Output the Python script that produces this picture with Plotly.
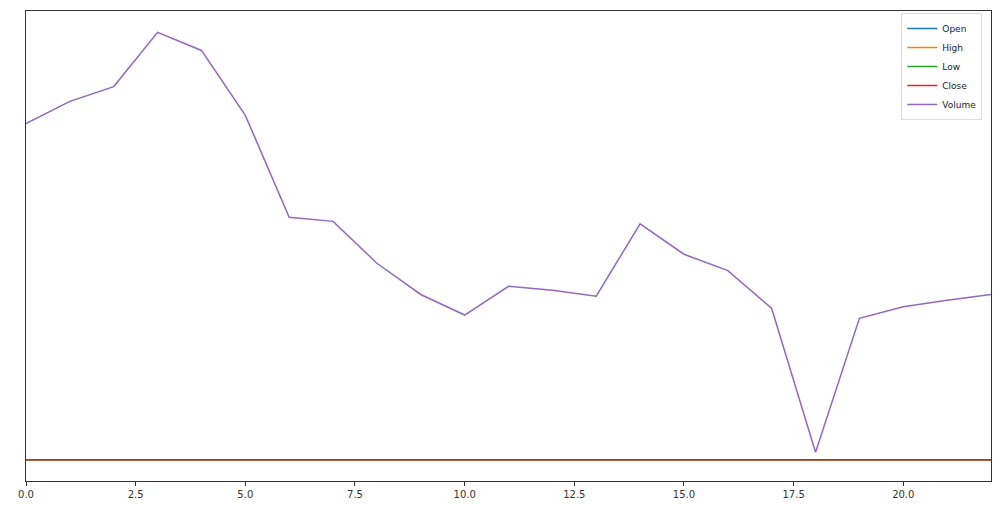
"""
Stock price columns and volume plotted on one shared axis.
"""

import plotly.graph_objects as go

# day index
days = list(range(23))

# prices are tiny next to volume, so they sit on the baseline
open_ = [171.2, 172.0, 170.8, 169.5, 170.3, 168.9, 169.7, 170.5, 171.1, 170.2, 169.8, 170.9,
         171.6, 172.3, 171.0, 170.4, 169.9, 168.7, 169.4, 170.6, 171.3, 172.1, 171.8]
high = [173.0, 173.4, 172.1, 171.6, 171.9, 170.8, 171.2, 172.0, 172.6, 171.7, 171.3, 172.5,
        173.1, 173.8, 172.6, 171.9, 171.4, 170.3, 170.9, 172.0, 172.8, 173.5, 173.2]
low = [169.8, 170.5, 169.2, 168.1, 168.7, 167.4, 168.3, 169.1, 169.8, 168.9, 168.4, 169.6,
       170.2, 170.9, 169.7, 169.0, 168.5, 167.2, 168.0, 169.3, 170.0, 170.7, 170.4]
close = [172.0, 171.1, 169.9, 170.2, 169.1, 169.5, 170.4, 171.0, 170.3, 169.9, 170.8, 171.5,
         172.2, 171.1, 170.5, 170.0, 168.8, 169.3, 170.5, 171.2, 172.0, 171.9, 172.4]
volume = [40.9e6, 43.6e6, 45.4e6, 52.0e6, 49.8e6, 41.9e6, 29.5e6, 29.0e6, 23.9e6, 20.1e6,
          17.6e6, 21.1e6, 20.6e6, 19.9e6, 28.7e6, 25.0e6, 23.0e6, 18.4e6, 0.9e6, 17.2e6,
          18.6e6, 19.4e6, 20.1e6]

x_ticks = [0, 2.5, 5, 7.5, 10, 12.5, 15, 17.5, 20]
x_tick_text = ["0.0", "2.5", "5.0", "7.5", "10.0", "12.5", "15.0", "17.5", "20.0"]

series = [
    ("Open", open_, "#1f77b4"),
    ("High", high, "#ff7f0e"),
    ("Low", low, "#2ca02c"),
    ("Close", close, "#d62728"),
    ("Volume", volume, "#9467bd"),
]

fig = go.Figure()
for name, values, color in series:
    fig.add_trace(go.Scatter(
        x=days,
        y=values,
        mode="lines",
        name=name,
        line=dict(color=color, width=1.5),
    ))

# matplotlib style 5% padding on y
all_vals = open_ + high + low + close + volume
lo, hi = min(all_vals), max(all_vals)
pad = (hi - lo) * 0.05

axis_style = dict(
    showline=True,
    linecolor="#333333",
    linewidth=1,
    mirror=True,
    showgrid=False,
    zeroline=False,
    automargin=False,
)

fig.update_layout(
    width=1005,
    height=505,
    margin=dict(l=26, r=14, t=11, b=24),
    plot_bgcolor="white",
    paper_bgcolor="white",
    font=dict(family="DejaVu Sans", size=10, color="#333333"),
    legend=dict(
        x=0.991,
        y=0.996,
        xanchor="right",
        yanchor="top",
        bgcolor="rgba(255,255,255,0.9)",
        bordercolor="#dddddd",
        borderwidth=1,
        font=dict(size=9, color="#222222"),
        itemwidth=30,
        tracegroupgap=0,
    ),
    xaxis=dict(
        range=[0, 22],
        tickvals=x_ticks,
        ticktext=x_tick_text,
        ticks="outside",
        ticklen=4,
        tickcolor="#333333",
        **axis_style,
    ),
    yaxis=dict(
        range=[lo - pad, hi + pad],
        showticklabels=False,
        ticks="",
        **axis_style,
    ),
)

# drop the default page margin so the figure fills the window
fig.write_html(
    "out.html",
    config={"displayModeBar": False},
    post_script="document.body.style.margin='0';"
                "document.documentElement.style.overflow='hidden';",
)
